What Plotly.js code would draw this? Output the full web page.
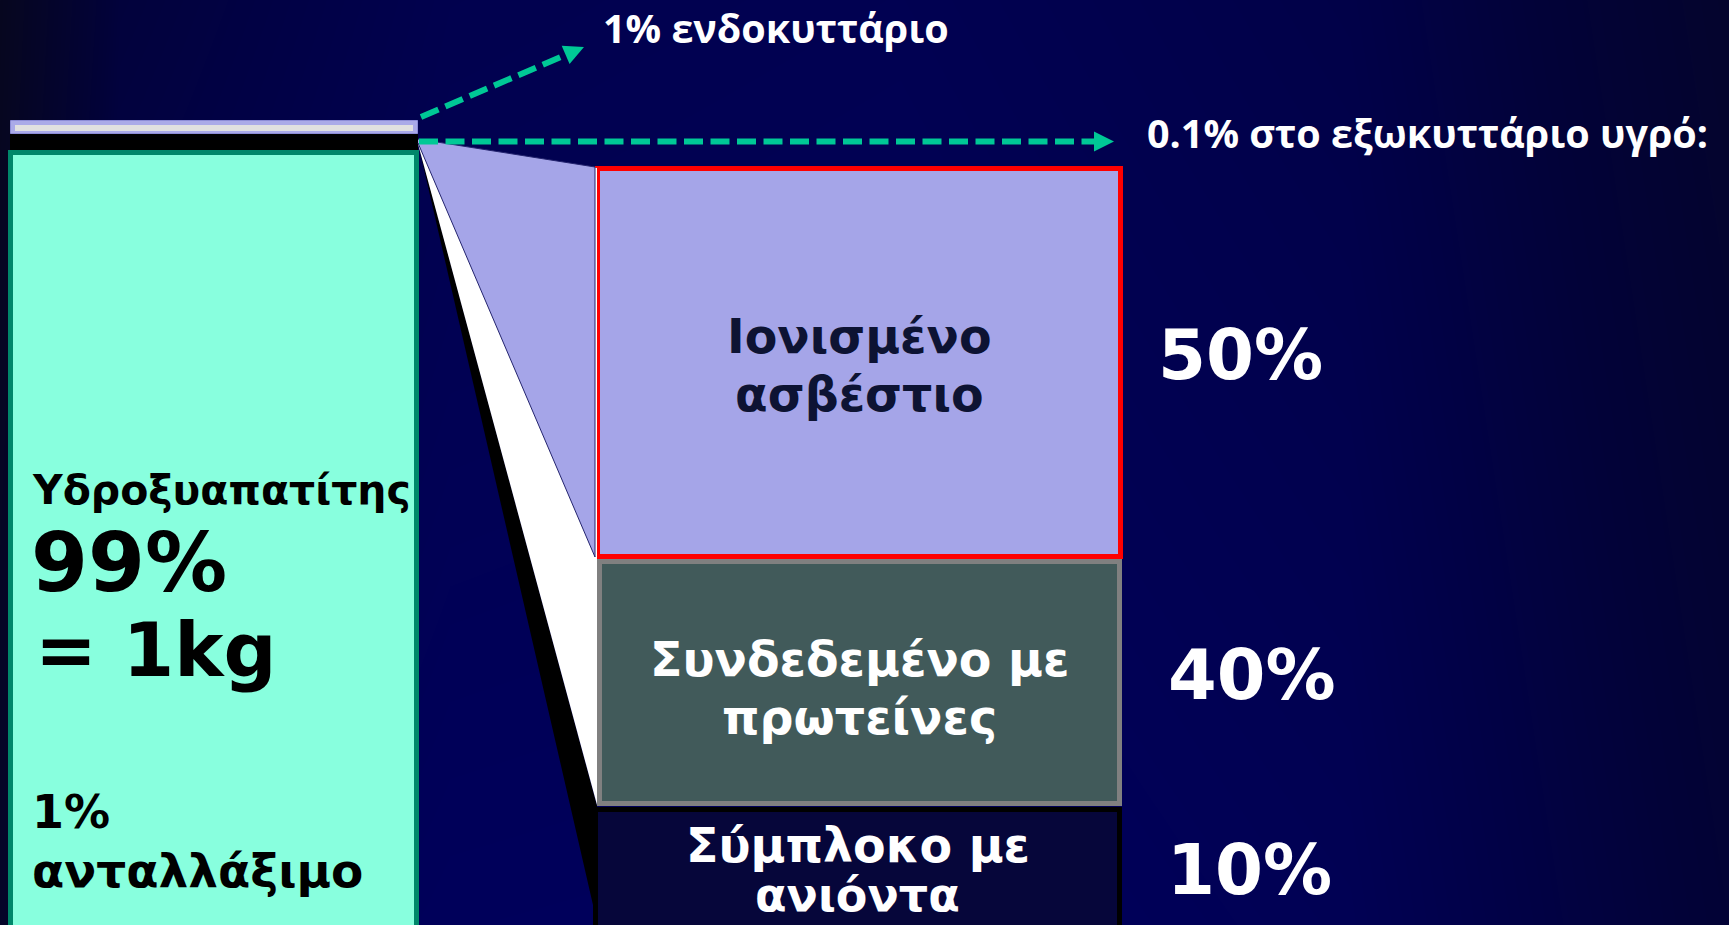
<!DOCTYPE html>
<html><head><meta charset="utf-8">
<script src="https://cdn.plot.ly/plotly-3.0.1.min.js"></script>
<style>html,body{margin:0;padding:0;background:#00004e;overflow:hidden}#chart{width:1729px;height:925px}</style>
</head><body><div id="chart"></div>
<script>
// ---------------- data ----------------
const fractionLabels = ['Ιονισμένο<br>ασβέστιο', 'Συνδεδεμένο με<br>πρωτείνες', 'Σύμπλοκο με<br>ανιόντα'];
const fractionPct = [50, 40, 10];
const boneMineral = 'Υδροξυαπατίτης';
const bonePct = 99;
const boneMass = '= 1kg';
const exchangeablePct = 1;
const exchangeableLabel = 'ανταλλάξιμο';
const flowLabels = ['ενδοκυττάριο', 'στο εξωκυττάριο υγρό:'];
const flowPct = [1, 0.1];

// ---------------- geometry (pixel space of the slide) ----------------
const W = 1729, H = 925;
const COL = {x0: 8, x1: 419, stripTop: 120, stripBot: 134, blackBot: 150, bottom: 945};
const BOXES = [
  {x0: 595, x1: 1123, y0: 166, y1: 559, fill: '#a5a5e8', line: '#ff0000'},
  {x0: 597, x1: 1122, y0: 559, y1: 806, fill: '#415a5a', line: '#808080'},
  {x0: 593, x1: 1122, y0: 807, y1: 945, fill: '#06063a', line: '#000000'}
];
const BORDER = 5;
const APEX = [418, 141];
const ARROWS = [{from: [421, 117], to: [584, 47]}, {from: [419, 141.5], to: [1114, 141.5]}];
const ARROW_COLOR = '#00c896';

function rect(r, b) {
  return {cx: (r.x0 + r.x1) / 2, w: r.x1 - r.x0 - b, base: r.y0 + b / 2, h: r.y1 - r.y0 - b};
}

const traces = [];

// background gradient (heatmap layer sits below bars)
traces.push({
  type: 'heatmap', x: [0, 120, 450, 900, 1350, 1729], y: [0, 925],
  z: [[0.05, 0.55, 0.78, 0.82, 0.7, 0.3], [0.22, 0.82, 0.93, 0.95, 0.85, 0.45]],
  zsmooth: 'best', showscale: false, hoverinfo: 'skip', zmin: 0, zmax: 1,
  colorscale: [[0, '#07071c'], [0.5, '#020238'], [1, '#000060']]
});

// left column (bone reservoir)
const colRects = [
  {x0: COL.x0, x1: COL.x1, y0: COL.blackBot, y1: COL.bottom, b: 5, fill: '#88ffde', line: '#00876a'},
  {x0: COL.x0 + 2, x1: COL.x1 - 1, y0: COL.stripBot, y1: COL.blackBot, b: 0, fill: '#000000', line: '#000000'},
  {x0: COL.x0 + 2, x1: COL.x1 - 1, y0: COL.stripTop, y1: COL.stripBot, b: 1, fill: '#aaaae8', line: '#8c8cd6'},
  {x0: COL.x0 + 7, x1: COL.x1 - 6, y0: COL.stripTop + 5, y1: COL.stripBot - 3, b: 0, fill: '#e0e0e0', line: '#e0e0e0'}
];
const cr = colRects.map(r => rect(r, r.b));
traces.push({
  type: 'bar', x: cr.map(r => r.cx), y: cr.map(r => r.h), base: cr.map(r => r.base), width: cr.map(r => r.w),
  marker: {color: colRects.map(r => r.fill), line: {color: colRects.map(r => r.line), width: colRects.map(r => r.b)}},
  hoverinfo: 'skip'
});

// right boxes (extracellular fractions)
const br = BOXES.map(r => rect(r, BORDER));
traces.push({
  type: 'bar', x: br.map(r => r.cx), y: br.map(r => r.h), base: br.map(r => r.base), width: br.map(r => r.w),
  marker: {color: BOXES.map(r => r.fill), line: {color: BOXES.map(r => r.line), width: BORDER}},
  hoverinfo: 'skip'
});

// funnel wedges
const B0 = BOXES[0], B1 = BOXES[1], B2 = BOXES[2];
traces.push({type: 'scatter', mode: 'lines', fill: 'toself', fillcolor: '#000000', line: {width: 0},
  x: [APEX[0], B2.x0, B2.x0, B1.x0, B1.x0], y: [APEX[1] + 2, 905, H + 20, H + 20, B1.y1], hoverinfo: 'skip'});
traces.push({type: 'scatter', mode: 'lines', fill: 'toself', fillcolor: '#ffffff', line: {width: 0},
  x: [APEX[0], B1.x0, B1.x0], y: [APEX[1] + 3, B1.y1 - 1, B0.y0 + 2], hoverinfo: 'skip'});
traces.push({type: 'scatter', mode: 'lines', fill: 'toself', fillcolor: '#a5a5e8', line: {width: 1, color: '#24246e'},
  x: [APEX[0], B0.x0, B0.x0, APEX[0]], y: [APEX[1] - 2, B0.y0 + 1, B0.y1 - 2, APEX[1] + 2], hoverinfo: 'skip'});

// dashed arrows
ARROWS.forEach(a => {
  const dx = a.to[0] - a.from[0], dy = a.to[1] - a.from[1];
  const len = Math.hypot(dx, dy), ux = dx / len, uy = dy / len, nx = -uy, ny = ux;
  const L = 20, Wd = 20;
  const bx = a.to[0] - L * ux, by = a.to[1] - L * uy;
  traces.push({type: 'scatter', mode: 'lines', x: [a.from[0], bx + 2 * ux], y: [a.from[1], by + 2 * uy],
    line: {color: ARROW_COLOR, width: 6, dash: '19px,7.5px'}, hoverinfo: 'skip'});
  traces.push({type: 'scatter', mode: 'lines', fill: 'toself', fillcolor: ARROW_COLOR, line: {width: 0},
    x: [a.to[0], bx + nx * Wd / 2, bx - nx * Wd / 2], y: [a.to[1], by + ny * Wd / 2, by - ny * Wd / 2], hoverinfo: 'skip'});
});

const DV = 'DejaVu Sans, Verdana, sans-serif';
const OS = 'Open Sans, Noto Sans, sans-serif';
function ann(text, x, y, size, color, family, xanchor, align) {
  return {text, x, y, xref: 'x', yref: 'y', xanchor: xanchor || 'left', yanchor: 'middle', showarrow: false,
    align: align || 'left', font: {family, size, color, weight: 'bold'}};
}
const pctY = [355, 675, 870];
const pctX = [1156, 1166, 1165];
const pctSize = [69, 70, 69];
const labLineY = [[336, 394], [659, 717], [845, 895]];
const labLineSize = [[47.5, 47.5], [47.5, 47.5], [47.5, 46]];
const annotations = [
  ann(`${flowPct[0]}% ${flowLabels[0]}`, 601, 28, 39.5, '#ffffff', OS),
  ann(`${flowPct[1]}% ${flowLabels[1]}`, 1145, 133, 39.5, '#ffffff', OS),
  ann(boneMineral, 30, 490, 41, '#000000', DV),
  ann(`${bonePct}%`, 29, 562, 82, '#000000', DV),
  ann(boneMass, 33, 650, 74, '#000000', DV),
  ann(`${exchangeablePct}%`, 30, 812, 46, '#000000', DV),
  ann(exchangeableLabel, 30, 870, 47, '#000000', DV)
];
fractionLabels.forEach((t, i) => {
  const cx = (BOXES[i].x0 + BOXES[i].x1) / 2;
  t.split('<br>').forEach((line, j) => {
    annotations.push(ann(line, cx, labLineY[i][j], labLineSize[i][j], i === 0 ? '#0d1333' : '#ffffff', DV, 'center', 'center'));
  });
  annotations.push(ann(`${fractionPct[i]}%`, pctX[i], pctY[i], pctSize[i], '#ffffff', DV));
});

const layout = {
  width: W, height: H, margin: {l: 0, r: 0, t: 0, b: 0, pad: 0},
  paper_bgcolor: '#00004e', plot_bgcolor: '#00004e', showlegend: false, barmode: 'overlay',
  xaxis: {range: [0, W], visible: false, fixedrange: true},
  yaxis: {range: [H, 0], visible: false, fixedrange: true},
  annotations
};
Plotly.newPlot('chart', traces, layout, {displayModeBar: false, staticPlot: true});
</script></body></html>
